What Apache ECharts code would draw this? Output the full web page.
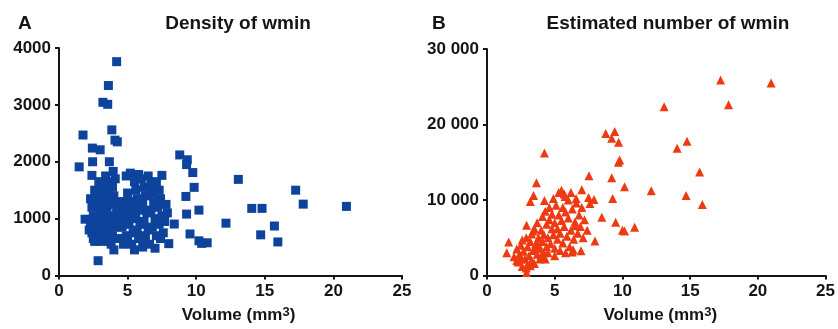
<!DOCTYPE html>
<html>
<head>
<meta charset="utf-8">
<script src="https://cdn.jsdelivr.net/npm/echarts@6/dist/echarts.min.js"></script>
<style>
  html, body { margin: 0; padding: 0; background: #fff; }
  #chart { width: 838px; height: 329px; }
</style>
</head>
<body>
<div id="chart"></div>
<script>
// panel A: density of wmin vs volume (mm3)
const densityPoints = [
  [4.2, 3760], [3.6, 3340], [3.2, 3045], [3.55, 3010], [1.75, 2470], [3.85, 2560],
  [4.08, 2380], [4.25, 2350], [2.43, 2240], [3.0, 2210], [2.45, 2000], [3.67, 2000],
  [1.47, 1910], [8.8, 2120], [9.35, 2035], [9.3, 1950], [9.75, 1810], [2.4, 1760],
  [7.5, 1760], [5.8, 1775], [3.95, 1830], [13.07, 1690], [9.85, 1550], [9.25, 1390],
  [17.25, 1500], [17.8, 1255], [10.2, 1150], [14.05, 1180], [14.8, 1180], [20.95, 1215],
  [9.3, 1080], [12.17, 920], [15.7, 870], [14.7, 715], [15.95, 590], [9.55, 730],
  [10.2, 610], [10.8, 575], [10.4, 565], [8.0, 560], [8.4, 905], [2.85, 260], [1.9, 990],
  // left lobe
  [2.3, 1350], [2.4, 1200], [2.5, 1050], [2.3, 900], [2.4, 750], [2.5, 650], [2.6, 1500],
  [2.7, 1400], [2.8, 1250], [2.9, 1100], [2.7, 950], [2.8, 800], [2.9, 700], [3.0, 600],
  [3.0, 1550], [3.1, 1450], [3.2, 1300], [3.3, 1150], [3.1, 1000], [3.2, 850], [3.3, 750],
  [3.4, 650], [3.5, 1650], [3.6, 1500], [3.7, 1350], [3.5, 1200], [3.6, 1050], [3.8, 900],
  [3.7, 800], [3.9, 700], [3.8, 550], [4.0, 450], [3.9, 1550], [4.0, 1400], [4.1, 1250],
  [4.2, 1100], [4.0, 950], [4.2, 850], [4.3, 650], [2.6, 600], [2.9, 1650], [3.4, 1750],
  [4.1, 1700], [3.3, 1400], [2.5, 1300], [3.0, 750], [3.4, 950], [4.4, 1000], [3.6, 600],
  [2.2, 800],
  // right lobe
  [4.6, 1300], [4.7, 1150], [4.8, 1000], [4.6, 850], [4.9, 700], [5.0, 600], [5.0, 1450],
  [5.1, 1300], [5.2, 1150], [5.3, 1000], [5.1, 900], [5.4, 750], [5.3, 550], [5.5, 450],
  [5.5, 1650], [5.6, 1500], [5.7, 1350], [5.8, 1200], [5.6, 1050], [5.9, 900], [5.7, 800],
  [6.0, 650], [6.1, 500], [6.0, 1700], [6.2, 1550], [6.3, 1400], [6.1, 1250], [6.4, 1100],
  [6.2, 950], [6.5, 800], [6.3, 700], [6.6, 550], [6.7, 1600], [6.8, 1450], [6.9, 1300],
  [6.7, 1150], [7.0, 1000], [6.8, 850], [7.1, 700], [7.0, 480], [7.3, 1500], [7.4, 1350],
  [7.2, 1200], [7.5, 1050], [7.3, 900], [7.6, 750], [7.4, 650], [7.8, 1250], [7.9, 1100],
  [7.7, 950], [4.9, 1750], [5.2, 1800], [6.5, 1750], [5.4, 1250], [6.0, 1150], [7.1, 1650],
  [5.8, 650], [4.7, 550]
];

// panel B: estimated number of wmin vs volume (mm3)
const numberPoints = [
  [17.25, 25880], [20.98, 25490], [13.08, 22350], [17.84, 22610], [8.77, 18820],
  [9.43, 19080], [9.21, 18170], [9.72, 17640], [4.24, 16210], [14.04, 16860],
  [14.77, 17770], [9.8, 15290], [9.7, 15000], [15.7, 13720], [7.53, 13200], [9.21, 12940],
  [10.16, 11760], [12.13, 11240], [3.65, 12290], [14.7, 10590], [15.9, 9410], [9.28, 10190],
  [3.44, 10590], [3.2, 9800], [4.24, 9930], [7.0, 11370], [7.5, 10330], [7.9, 10060],
  [5.77, 10460], [6.58, 10190], [7.6, 9540], [8.48, 7710], [9.5, 7060], [10.16, 5880],
  [10.0, 6000], [10.9, 6400], [2.92, 6670], [2.92, 390], [1.6, 4440], [1.46, 3010],
  [7.97, 4570], [6.94, 3270], [6.36, 3400],
  [2.0, 2500], [2.2, 3500], [2.3, 1800], [2.4, 2800], [2.5, 4000], [2.6, 1200], [2.7, 3200],
  [2.8, 2200], [2.9, 5000], [3.0, 1500], [3.0, 3800], [3.1, 2600], [3.2, 4500], [3.3, 2000],
  [3.3, 5500], [3.4, 3300], [3.5, 1600], [3.5, 6200], [3.6, 4200], [3.7, 2800], [3.7, 7000],
  [3.8, 5000], [3.9, 3600], [3.9, 2200], [4.0, 6000], [4.1, 4500], [4.1, 7800], [4.2, 3000],
  [4.2, 5400], [4.3, 8500], [4.4, 6800], [4.4, 3800], [4.5, 5000], [4.6, 7400], [4.6, 9000],
  [4.7, 4200], [4.8, 6200], [4.8, 8100], [4.9, 5400], [5.0, 3600], [5.0, 7000], [5.1, 9300],
  [5.2, 4800], [5.2, 6200], [5.3, 8000], [5.4, 5600], [5.4, 3300], [5.5, 7300], [5.6, 9000],
  [5.6, 4300], [5.7, 6500], [5.8, 8400], [5.9, 5200], [6.0, 7600], [6.0, 10000], [6.1, 3800],
  [6.2, 6000], [6.3, 8800], [6.4, 4800], [6.5, 7100], [6.6, 9600], [6.7, 5600], [6.8, 8000],
  [6.9, 6500], [7.0, 9000], [7.1, 5000], [7.2, 7400], [7.4, 6000], [2.5, 2200], [2.9, 1000],
  [3.2, 1300], [3.6, 3600], [4.0, 2600], [4.3, 2200], [4.5, 3000], [3.8, 4100], [2.2, 2000],
  [2.6, 4700], [3.4, 5900], [5.8, 3000], [6.3, 3100], [5.0, 2600], [4.9, 10200],
  [5.3, 11000], [5.7, 10800], [5.5, 11300], [6.2, 11000], [6.5, 6600]
];

const panelTitles = ['Density of wmin', 'Estimated number of wmin'];
const panelLetters = ['A', 'B'];
const xName = 'Volume (mm{sup|3})';

const font = '"Liberation Sans", Arial, sans-serif';
const ink = '#151515';
const axisLine = { show: true, lineStyle: { color: ink, width: 2 } };
const axisTick = { show: true, inside: false, length: 4, lineStyle: { color: ink, width: 2 } };
const labelStyle = { color: ink, fontFamily: font, fontWeight: 'bold', fontSize: 17 };
const titleStyle = { fontFamily: font, fontWeight: 'bold', fontSize: 19, color: ink };

// "30000" -> "30 000", 4000 stays "4000"
const spaced = v => v >= 10000 ? String(v).replace(/\B(?=(\d{3})+(?!\d))/g, ' ') : String(v);

function xAxisFor(gridIndex, shift) {
  return {
    type: 'value', gridIndex, min: 0, max: 25, interval: 5,
    name: xName, nameLocation: 'middle', nameGap: 30,
    nameTextStyle: {
      color: ink, fontFamily: font, fontWeight: 'bold', fontSize: 17,
      padding: [0, 0, 0, shift],
      rich: { sup: { fontFamily: font, fontWeight: 'bold', fontSize: 13, verticalAlign: 'top', padding: [0, 0, 7, 0], color: ink } }
    },
    axisLine, axisTick, splitLine: { show: false },
    axisLabel: { ...labelStyle, margin: 7 }
  };
}

const chart = echarts.init(document.getElementById('chart'), null, { renderer: 'canvas' });
chart.setOption({
  animation: false,
  backgroundColor: '#fff',
  title: [
    { text: panelLetters[0], left: 13, top: 9, textStyle: titleStyle },
    { text: panelTitles[0], left: 233, top: 9, textAlign: 'center', textStyle: titleStyle },
    { text: panelLetters[1], left: 427, top: 9, textStyle: titleStyle },
    { text: panelTitles[1], left: 663, top: 9, textAlign: 'center', textStyle: titleStyle }
  ],
  grid: [
    { left: 59, top: 48, width: 343, height: 230 },
    { left: 487, top: 49, width: 342, height: 229 }
  ],
  xAxis: [xAxisFor(0, 16), xAxisFor(1, 8)],
  yAxis: [
    {
      type: 'value', gridIndex: 0, min: 0, max: 4000, interval: 1000,
      axisLine, axisTick, splitLine: { show: false },
      axisLabel: { ...labelStyle, margin: 8, formatter: spaced }
    },
    {
      type: 'value', gridIndex: 1, min: 0, max: 30000, interval: 10000,
      axisLine, axisTick, splitLine: { show: false },
      axisLabel: { ...labelStyle, margin: 8, formatter: spaced }
    }
  ],
  series: [
    {
      type: 'scatter', xAxisIndex: 0, yAxisIndex: 0, data: densityPoints,
      symbol: 'rect', symbolSize: 9,
      itemStyle: { color: '#0d439c', opacity: 1 }
    },
    {
      type: 'scatter', xAxisIndex: 1, yAxisIndex: 1, data: numberPoints,
      symbol: 'triangle', symbolSize: 9,
      itemStyle: { color: '#ee3a12', opacity: 1 }
    }
  ]
});
</script>
</body>
</html>
